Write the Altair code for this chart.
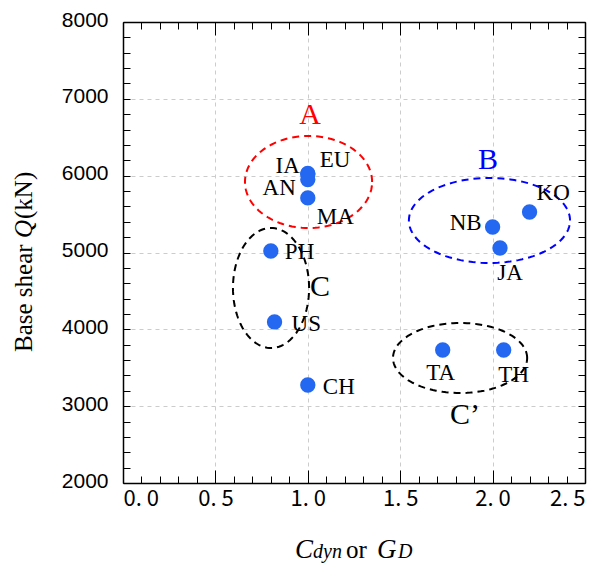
import altair as alt
import pandas as pd
import numpy as np

# ---------------- data ----------------
names = ["IA", "EU", "AN", "MA", "PH", "US", "CH", "NB", "JA", "KO", "TA", "TH"]
cdyn = [1.00, 1.00, 1.00, 1.00, 0.80, 0.82, 1.00, 2.00, 2.04, 2.20, 1.73, 2.06]
shear = [6030, 6020, 5950, 5710, 5020, 4096, 3276, 5332, 5059, 5527, 3731, 3731]

group_names = ["A", "B", "C", "C\u2019"]
group_x = [1.012, 1.975, 1.066, 1.851]
group_y = [6790, 6204, 4551, 2885]

ellipse_cx = [1.004, 1.983, 0.801, 1.824]
ellipse_cy = [5918, 5417, 4538, 3627]
ellipse_rx = [0.344, 0.436, 0.206, 0.363]
ellipse_ry = [599, 553, 781, 456]

x_ticks = [0.0, 0.1, 0.2, 0.3, 0.4, 0.5, 0.6, 0.7, 0.8, 0.9, 1.0, 1.1, 1.2,
           1.3, 1.4, 1.5, 1.6, 1.7, 1.8, 1.9, 2.0, 2.1, 2.2, 2.3, 2.4, 2.5]
y_ticks = [2000, 2200, 2400, 2600, 2800, 3000, 3200, 3400, 3600, 3800, 4000,
           4200, 4400, 4600, 4800, 5000, 5200, 5400, 5600, 5800, 6000, 6200,
           6400, 6600, 6800, 7000, 7200, 7400, 7600, 7800, 8000]

# ---------------- styles ----------------
W, H = 462, 461
POINT_COLOR = "#2468f2"
SERIF = "Liberation Serif"
group_colors = ["#ff0000", "#0000ff", "#000000", "#000000"]
ellipse_colors = ["#ff0000", "#0000ff", "#000000", "#000000"]
# label placement: align, dx, dy
label_style = {
    "IA": ("right", -8, -7),
    "EU": ("left", 12, -14),
    "AN": ("right", -12, 8),
    "MA": ("left", 9, 19),
    "PH": ("left", 14, 1),
    "US": ("left", 17, 2),
    "CH": ("left", 15, 2),
    "NB": ("right", -11, -4),
    "JA": ("center", 10, 25),
    "KO": ("left", 7, -19),
    "TA": ("center", -2, 23),
    "TH": ("center", 10, 25),
}

pts = pd.DataFrame({"name": names, "cdyn": cdyn, "shear": shear})

xs = alt.Scale(domain=[0, 2.5], nice=False, zero=False)
ys = alt.Scale(domain=[2000, 8000], nice=False, zero=False)

major_x = "abs(datum.value*2 - round(datum.value*2)) < 1e-6"
major_y = "datum.value % 1000 == 0"

x_axis = alt.Axis(
    orient="bottom", values=x_ticks, title=None,
    tickSize={"condition": {"test": major_x, "value": -13}, "value": -7},
    tickColor="black", tickWidth=1,
    labelExpr="(abs(datum.value*2 - round(datum.value*2)) < 1e-6) ? replace(format(datum.value, '.1f'), '.', '. ') : ''",
    labelFont="Noto Sans CJK JP", labelFontSize=22, labelColor="black",
    labelPadding=18, labelBaseline="top",
    domainColor="black", domainWidth=1.5,
    grid=True, gridColor="#cccccc", gridDash=[4, 4], gridWidth=1,
    gridOpacity={"condition": {"test": major_x, "value": 1}, "value": 0},
)
y_axis = alt.Axis(
    orient="left", values=y_ticks, title=None,
    tickSize={"condition": {"test": major_y, "value": -7}, "value": -7},
    tickColor="black", tickWidth=1,
    labelExpr="datum.value % 1000 == 0 ? format(datum.value, 'd') : ''",
    labelFont="Liberation Sans", labelFontSize=21, labelColor="black",
    labelPadding=22, labelOffset=-2,
    domainColor="black", domainWidth=1.5,
    grid=True, gridColor="#cccccc", gridDash=[4, 4], gridWidth=1,
    gridOpacity={"condition": {"test": major_y, "value": 1}, "value": 0},
)
x_axis_top = alt.Axis(
    orient="top", values=x_ticks, title=None, labels=False, grid=False,
    tickSize={"condition": {"test": major_x, "value": -13}, "value": -7},
    tickColor="black", tickWidth=1, domainColor="black", domainWidth=1.5,
)
y_axis_right = alt.Axis(
    orient="right", values=y_ticks, title=None, labels=False, grid=False,
    tickSize={"condition": {"test": major_y, "value": -7}, "value": -7},
    tickColor="black", tickWidth=1,
    domainColor="black", domainWidth=1.5,
)

# ellipses
ell_layers = []
t = np.linspace(0, 2 * np.pi, 121)
for i in range(4):
    edf = pd.DataFrame({
        "cdyn": ellipse_cx[i] + ellipse_rx[i] * np.cos(t),
        "shear": ellipse_cy[i] + ellipse_ry[i] * np.sin(t),
        "k": np.arange(len(t)),
    })
    ell_layers.append(
        alt.Chart(edf).mark_line(color=ellipse_colors[i], strokeWidth=2,
                                 strokeDash=[7, 5], clip=False).encode(
            x=alt.X("cdyn:Q", scale=xs, axis=None),
            y=alt.Y("shear:Q", scale=ys, axis=None),
            order="k:Q",
        )
    )

points = alt.Chart(pts).mark_circle(size=235, color=POINT_COLOR, opacity=1).encode(
    x=alt.X("cdyn:Q", scale=xs, axis=x_axis),
    y=alt.Y("shear:Q", scale=ys, axis=y_axis),
)

label_layers = []
for n in names:
    al, dx, dy = label_style[n]
    label_layers.append(
        alt.Chart(pts[pts["name"] == n]).mark_text(
            align=al, baseline="middle", dx=dx, dy=dy,
            font=SERIF, fontSize=23, color="black",
        ).encode(
            x=alt.X("cdyn:Q", scale=xs, axis=None),
            y=alt.Y("shear:Q", scale=ys, axis=None),
            text="name:N",
        )
    )

grp_layers = []
for i, g in enumerate(group_names):
    gdf = pd.DataFrame({"g": [g], "cdyn": [group_x[i]], "shear": [group_y[i]]})
    grp_layers.append(
        alt.Chart(gdf).mark_text(
            align="center", baseline="middle", font=SERIF, fontSize=30,
            color=group_colors[i],
        ).encode(
            x=alt.X("cdyn:Q", scale=xs, axis=None),
            y=alt.Y("shear:Q", scale=ys, axis=None),
            text="g:N",
        )
    )

frame = alt.Chart(pts).mark_point(opacity=0).encode(
    x=alt.X("cdyn:Q", scale=xs, axis=x_axis_top),
    y=alt.Y("shear:Q", scale=ys, axis=y_axis_right),
)

one = pd.DataFrame({"a": [0]})


def txt(s, x, y, size, style="normal", angle=0):
    kw = dict(align="left", baseline="alphabetic", font=SERIF, fontSize=size,
              fontStyle=style, color="black")
    if angle:
        kw["angle"] = angle
    return alt.Chart(one).mark_text(**kw).encode(
        x=alt.value(x), y=alt.value(y), text=alt.value(s))


# x title: "C_dyn or G_D" (pixel positions relative to plot origin)
xt = [
    txt("C", 172, 536, 27, "italic"),
    txt("dyn", 190, 536, 20, "italic"),
    txt("or", 223, 536, 25),
    txt("G", 254, 536, 27, "italic"),
    txt("D", 275, 536, 20, "italic"),
]
# y title: "Base shear Q(kN)" rotated
yt = [
    txt("Base shear", -91, 330, 25, "normal", 270),
    txt("Q", -91, 216, 25, "italic", 270),
    txt("(kN)", -91, 197, 25, "normal", 270),
]

chart = alt.layer(points, frame, *ell_layers, *label_layers, *grp_layers,
                  *xt, *yt).resolve_axis(
    x="independent", y="independent"
).properties(
    width=W, height=H,
    autosize=alt.AutoSizeParams(type="none"),
    padding={"left": 123, "top": 22, "right": 19, "bottom": 83},
    background="white",
).configure_view(stroke=None)

chart.save("out.html", embed_options={"renderer": "svg", "actions": False})
